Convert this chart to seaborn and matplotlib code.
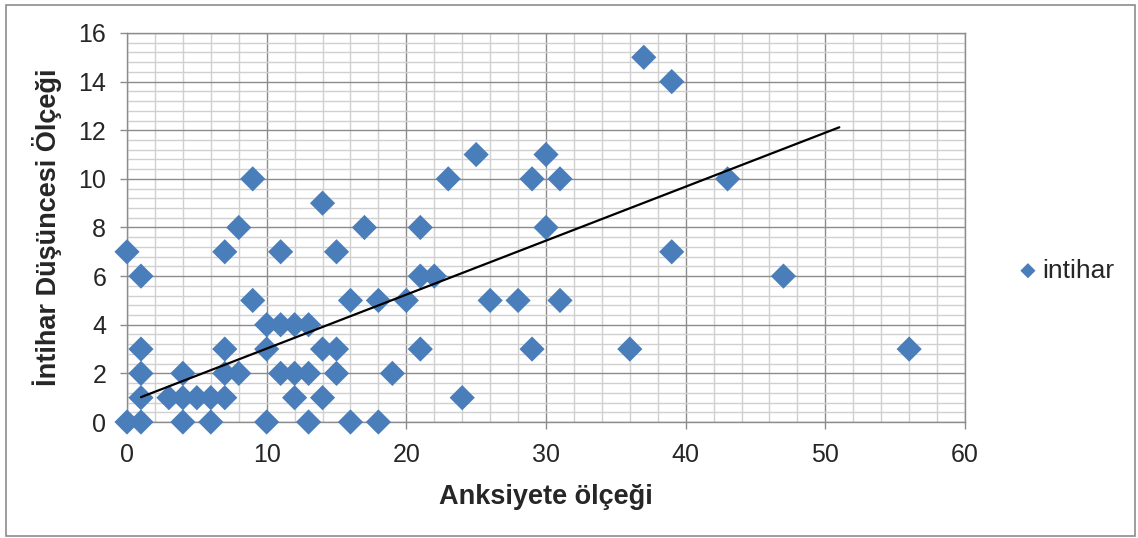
import numpy as np
import pandas as pd
import matplotlib
matplotlib.use("Agg")
import matplotlib.pyplot as plt
import seaborn as sns
from matplotlib.ticker import MultipleLocator
from matplotlib.patches import Rectangle

sns.set_theme(style="white")
plt.rcParams["font.family"] = ["Liberation Sans", "DejaVu Sans"]

# Anksiyete (x) and intihar (y) scores
anksiyete = [0, 0, 1, 1, 1, 1, 1, 3, 4, 4, 4, 5, 6, 6, 7, 7, 7, 7, 8, 8,
             9, 9, 10, 10, 10, 11, 11, 11, 12, 12, 12, 13, 13, 13, 14, 14, 14,
             15, 15, 15, 16, 16, 17, 18, 18, 19, 20, 21, 21, 21, 22, 23, 24,
             25, 26, 28, 29, 29, 30, 30, 31, 31, 36, 37, 39, 39, 43, 47, 56]
intihar = [0, 7, 6, 3, 2, 1, 0, 1, 2, 1, 0, 1, 1, 0, 1, 2, 3, 7, 2, 8,
           10, 5, 4, 3, 0, 7, 4, 2, 4, 2, 1, 4, 2, 0, 9, 3, 1,
           7, 3, 2, 5, 0, 8, 5, 0, 2, 5, 8, 6, 3, 6, 10, 1,
           11, 5, 5, 10, 3, 11, 8, 10, 5, 3, 15, 14, 7, 10, 6, 3]

# linear trend as shown in the chart (overlapping points are hidden,
# so the fit is read from the picture, not recomputed)
trend_slope = 0.222
trend_intercept = 0.80
trend_x = [1, 51]

df = pd.DataFrame({"Anksiyete ölçeği": anksiyete, "intihar": intihar})

fig = plt.figure(figsize=(11.38, 5.38), dpi=100)
ax = fig.add_axes([0.1116, 0.2156, 0.7364, 0.7231])

sns.scatterplot(data=df, x="Anksiyete ölçeği", y="intihar", ax=ax,
                marker="D", s=165, color="#4a7ebb", edgecolor="none",
                label="intihar", zorder=3, clip_on=False)

tx = np.array(trend_x, dtype=float)
ax.plot(tx, trend_slope * tx + trend_intercept, color="black", lw=1.6, zorder=4)

ax.set_xlim(0, 60)
ax.set_ylim(0, 16)
ax.xaxis.set_major_locator(MultipleLocator(10))
ax.xaxis.set_minor_locator(MultipleLocator(2))
ax.yaxis.set_major_locator(MultipleLocator(2))
ax.yaxis.set_minor_locator(MultipleLocator(0.4))
ax.grid(which="minor", color="#d0d0d0", lw=1.0, zorder=0)
ax.grid(which="major", color="#8c8c8c", lw=1.0, zorder=1)
ax.set_axisbelow(True)
for side in ax.spines.values():
    side.set_color("#8c8c8c")
    side.set_linewidth(1.0)
ax.tick_params(which="major", direction="out", length=5, width=1,
               color="#8c8c8c", labelsize=18, pad=10, left=True, bottom=True)
ax.tick_params(which="minor", length=0)

ax.set_xlabel("Anksiyete ölçeği", fontsize=19.5, fontweight="bold", labelpad=12)
ax.set_ylabel("İntihar Düşüncesi Ölçeği", fontsize=19.5, fontweight="bold", labelpad=12)

leg = ax.legend(loc="center left", bbox_to_anchor=(0.894, 0.497),
                bbox_transform=fig.transFigure, frameon=False,
                fontsize=19, handlelength=0.8, handletextpad=0.15,
                borderpad=0, borderaxespad=0, markerscale=0.6)

fig.patches.append(Rectangle((0.005, 0.003), 0.992, 0.987, transform=fig.transFigure,
                             fill=False, edgecolor="#8c8c8c", lw=1.2))

fig.savefig("out.png", dpi=100)
plt.close()
